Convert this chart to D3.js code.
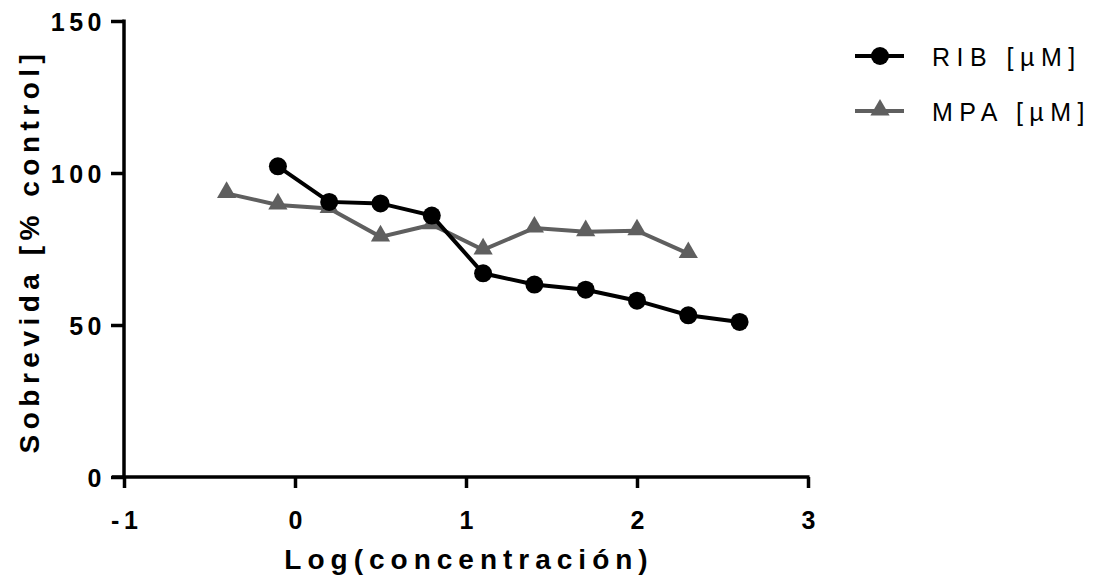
<!DOCTYPE html>
<html><head><meta charset="utf-8">
<script src="https://cdn.jsdelivr.net/npm/d3@7"></script>
<style>body{margin:0;background:#fff}svg{display:block}</style>
</head><body>
<svg id="c" width="1105" height="580"></svg>
<script>
const ribX = [-0.1, 0.2, 0.5, 0.8, 1.1, 1.4, 1.7, 2.0, 2.3, 2.6];
const ribY = [102.2, 90.5, 90.0, 86.0, 67.0, 63.3, 61.6, 58.0, 53.2, 51.0];
const mpaX = [-0.4, -0.1, 0.2, 0.5, 0.8, 1.1, 1.4, 1.7, 2.0, 2.3];
const mpaY = [93.3, 89.5, 88.3, 79.0, 83.0, 74.7, 81.9, 80.7, 81.0, 73.5];
const xTicks = [-1, 0, 1, 2, 3];
const yTicks = [0, 50, 100, 150];
const seriesNames = ["RIB [µM]", "MPA [µM]"];
const seriesColors = ["#000000", "#5f5f5f"];

const svg = d3.select("#c");
const x = d3.scaleLinear().domain([-1, 3]).range([124, 808]);
const y = d3.scaleLinear().domain([0, 150]).range([477, 21]);
const font = "'Liberation Sans', Arial, sans-serif";

// axes
const xa = svg.append("g").attr("transform", `translate(0,${y(0)})`)
  .call(d3.axisBottom(x).tickValues(xTicks).tickSize(11).tickSizeOuter(0).tickFormat(d => String(d)));
const ya = svg.append("g").attr("transform", `translate(${x(-1)},0)`)
  .call(d3.axisLeft(y).tickValues(yTicks).tickSize(13).tickSizeOuter(0).tickFormat(d => String(d)));
[xa, ya].forEach(a => {
  a.attr("font-size", null).attr("font-family", null);
  a.select(".domain").attr("stroke", "#000").attr("stroke-width", 3.5);
  a.selectAll(".tick line").attr("stroke", "#000").attr("stroke-width", 3.5);
  a.selectAll(".tick text").attr("fill", "#000").style("font-family", font)
    .style("font-weight", "bold").style("font-size", "25px").style("letter-spacing", "4.5px");
});
xa.select(".domain").attr("d", `M${x(-1) - 12},0H${x(3) + 1.5}`);
ya.select(".domain").attr("d", `M0,${y(0) + 1.5}V${y(150) - 1.5}`);
xa.selectAll(".tick text").attr("y", 52).attr("dy", 0).attr("x", 2.2);
ya.selectAll(".tick text").attr("x", -18).attr("dy", 0).attr("y", 9);

// axis titles
svg.append("text").attr("x", 469).attr("y", 569).attr("text-anchor", "middle")
  .style("font-family", font).style("font-weight", "bold").style("font-size", "28px").style("letter-spacing", "6px")
  .text("Log(concentración)");
svg.append("text").attr("transform", `translate(39,251) rotate(-90)`).attr("text-anchor", "middle")
  .style("font-family", font).style("font-weight", "bold").style("font-size", "28px").style("letter-spacing", "5.5px")
  .text("Sobrevida [% control]");

const line = d3.line().x(d => x(d[0])).y(d => y(d[1]));
const tri = d3.symbol().type(d3.symbolTriangle).size(160);

// MPA
const mpa = mpaX.map((v, i) => [v, mpaY[i]]);
svg.append("path").datum(mpa).attr("d", line).attr("fill", "none")
  .attr("stroke", seriesColors[1]).attr("stroke-width", 4);
svg.selectAll(".tri").data(mpa).join("path").attr("class", "tri")
  .attr("transform", d => `translate(${x(d[0])},${y(d[1]) - 1})`).attr("d", tri).attr("fill", seriesColors[1]);

// RIB
const rib = ribX.map((v, i) => [v, ribY[i]]);
svg.append("path").datum(rib).attr("d", line).attr("fill", "none")
  .attr("stroke", seriesColors[0]).attr("stroke-width", 4);
svg.selectAll(".dot").data(rib).join("circle").attr("class", "dot")
  .attr("cx", d => x(d[0])).attr("cy", d => y(d[1])).attr("r", 9).attr("fill", seriesColors[0]);

// legend
const lg = svg.append("g");
seriesNames.forEach((name, i) => {
  const ly = 56 + i * 55;
  lg.append("line").attr("x1", 855).attr("x2", 904).attr("y1", ly).attr("y2", ly)
    .attr("stroke", seriesColors[i]).attr("stroke-width", 4);
  if (i === 0) lg.append("circle").attr("cx", 880).attr("cy", ly).attr("r", 9).attr("fill", seriesColors[i]);
  else lg.append("path").attr("transform", `translate(880,${ly - 1})`).attr("d", tri).attr("fill", seriesColors[i]);
  lg.append("text").attr("x", 932).attr("y", ly + 10)
    .style("font-family", font).style("font-size", "25px").style("letter-spacing", "6.5px")
    .text(name);
});
</script>
</body></html>
